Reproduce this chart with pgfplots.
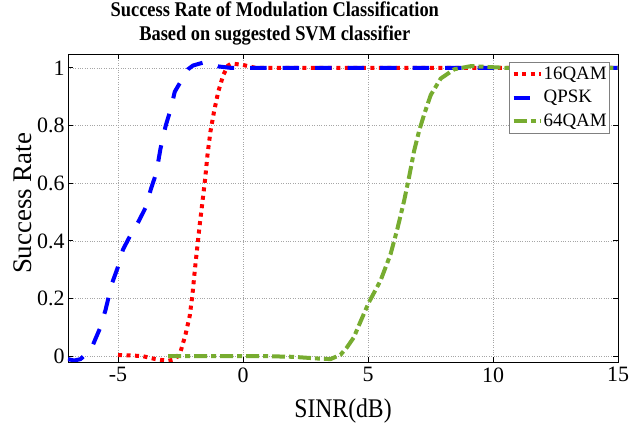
\documentclass[border=0pt]{standalone}
\usepackage{fontspec}
\setmainfont{Liberation Serif}
\newfontfamily\condfont{Liberation Serif}[FakeStretch=0.88]
\usepackage{pgfplots}
\pgfplotsset{compat=1.18}
\definecolor{mred}{RGB}{255,0,0}
\definecolor{mblue}{RGB}{0,0,255}
\definecolor{mgreen}{RGB}{119,172,48}
\begin{document}
\begin{tikzpicture}
\begin{axis}[
  at={(0,0)}, anchor=south west,
  scale only axis, width=550bp, height=308bp,
  xmin=-7, xmax=15, ymin=-0.02, ymax=1.048,
  xtick={-5,0,5,10,15},
  ytick={0,0.2,0.4,0.6,0.8,1},
  yticklabels={0,0.2,0.4,0.6,0.8,1},
  xticklabels={-5,0,5,10,15},
  tick align=inside, major tick length=5bp,
  tick style={black, line width=0.8pt},
  grid=major,
  major grid style={gray!70, dotted, line width=0.6pt},
  axis line style={black, line width=0.8pt},
  ticklabel style={font=\fontsize{22}{26}\selectfont},
  xticklabel style={yshift=-2bp},
  /pgf/number format/assume math mode=true,
  xlabel={SINR(dB)}, ylabel={Success Rate},
  xlabel style={font=\condfont\fontsize{27}{30}\selectfont, at={(axis description cs:0.5,-0.1786)}, anchor=base, inner sep=0pt},
  ylabel style={font=\fontsize{27}{30}\selectfont, at={(axis description cs:-0.0655,0.515)}, anchor=base, inner sep=0pt},
  title={Success Rate of Modulation Classification\\Based on suggested SVM classifier},
  title style={font=\condfont\bfseries\fontsize{21}{24}\selectfont, align=center, at={(axis description cs:0.376,1)}, anchor=south, inner sep=0pt, yshift=2.5bp},
  legend style={at={(0.9855,0.974)}, anchor=north east, draw=gray, line width=0.6pt, fill=white,
    font=\fontsize{19}{23}\selectfont, inner sep=2bp, row sep=3.5bp, cells={anchor=west},
    nodes={inner sep=1bp, text height=14bp, text depth=4bp}},
  legend image code/.code={\draw[#1] (0bp,0bp) -- (27bp,0bp);},
]
\addplot[mred, line width=4bp, dash pattern=on 4bp off 4.5bp] coordinates {
(-5,0.004) (-4.5,0.003) (-4,0.0) (-3.5,-0.01) (-3,-0.016) (-2.7,-0.01) (-2.5,0.015)
(-2.3,0.075) (-2.13,0.14) (-2.02,0.215) (-1.93,0.296) (-1.83,0.377) (-1.73,0.457)
(-1.62,0.537) (-1.51,0.618) (-1.42,0.699) (-1.3,0.78) (-1.16,0.848) (-0.99,0.917)
(-0.79,0.975) (-0.6,1.008) (-0.45,1.015) (0,1.01) (0.5,1.0) (15,1.0)};
\addlegendentry{16QAM}
\addplot[mblue, line width=4bp, dash pattern=on 16.5bp off 16bp] coordinates {
(-7,-0.01) (-6.75,-0.015) (-6.5,-0.01) (-6.25,0.01) (-6.0,0.04) (-5.73,0.095)
(-5.5,0.16) (-5.25,0.25) (-5.0,0.31) (-4.8,0.37) (-4.5,0.42) (-4.16,0.47)
(-3.87,0.52) (-3.69,0.578) (-3.47,0.635) (-3.3,0.72) (-3.09,0.80) (-2.89,0.857)
(-2.73,0.917) (-2.42,0.963) (-2.2,0.995) (-2.0,1.008) (-1.6,1.018) (-1.33,1.018)
(-1.0,1.005) (-0.5,1.0) (15,1.0)};
\addlegendentry{QPSK}
\addplot[mgreen, line width=4bp, dash pattern=on 13bp off 4bp on 5bp off 4bp] coordinates {
(-3,0) (0,0) (1,0.0) (2,-0.002) (3,-0.008) (3.5,-0.01) (3.9,0.005) (4.16,0.031)
(4.43,0.065) (4.7,0.12) (5.03,0.186) (5.5,0.262) (5.9,0.353) (6.17,0.44)
(6.44,0.537) (6.64,0.62) (6.84,0.71) (7.04,0.78) (7.24,0.837) (7.51,0.906)
(7.91,0.963) (8.45,0.995) (9.12,1.006) (9.79,1.003) (10.5,1.0) (15,1.0)};
\addlegendentry{64QAM}
\end{axis}
\pgfresetboundingbox
\path[use as bounding box] (-68bp,-61bp) rectangle (561bp,362bp);
\end{tikzpicture}
\end{document}
